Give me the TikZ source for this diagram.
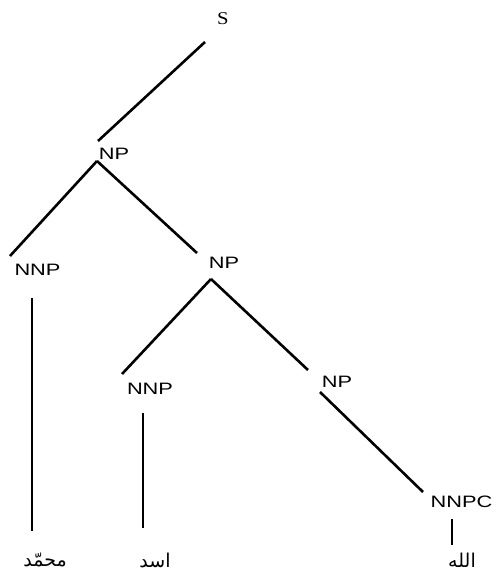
\documentclass[tikz,border=0pt]{standalone}
\usepackage{fontspec}
\newfontfamily\labfont{Liberation Sans}
\newfontfamily\serfont{Liberation Serif}
\newfontfamily\arabicfont[Script=Arabic]{DejaVu Sans}
\TeXXeTstate=1
\begin{document}
\begin{tikzpicture}[x=1pt,y=-1pt,
  lab/.style={inner sep=0pt,font=\labfont\fontsize{16.5}{16.5}\selectfont,xscale=1.32},
  slab/.style={inner sep=0pt,font=\serfont\fontsize{18}{18}\selectfont,xscale=1.15},
  word/.style={inner sep=0pt,font=\arabicfont\fontsize{19}{19}\selectfont},
  edge/.style={line width=2.6pt}]
\useasboundingbox (0,0) rectangle (497,573);
% labels
\node[slab] (s) at (223,19) {S};
\node[lab] (np1) at (114,154) {NP};
\node[lab] (nnp1) at (37.5,270) {NNP};
\node[lab] (np2) at (224,263) {NP};
\node[lab] (nnp2) at (150,389) {NNP};
\node[lab] (np3) at (337,382) {NP};
\node[lab] (nnpc) at (461.5,502) {NNPC};
\node[word] (w1) at (45,560) {\beginR محمّد\endR};
\node[word] (w2) at (155,560) {\beginR اسد\endR};
\node[word] (w3) at (462,560) {\beginR الله\endR};
% connector ends
\coordinate (s-out) at (205,42);
\coordinate (np1-in) at (98,141);
\coordinate (np1-out) at (97,161);
\coordinate (nnp1-in) at (10,256);
\coordinate (np2-in) at (197,253);
\coordinate (np2-out) at (211,279);
\coordinate (nnp2-in) at (122,374);
\coordinate (np3-in) at (308,370);
\coordinate (np3-out) at (320,392);
\coordinate (nnpc-in) at (423,492);
\coordinate (nnp1-out) at (32,298);
\coordinate (w1-in) at (32,531);
\coordinate (nnp2-out) at (143,413);
\coordinate (w2-in) at (143,528);
\coordinate (nnpc-out) at (452,519);
\coordinate (w3-in) at (452,545);
% connectors
\draw[edge] (s-out) -- (np1-in);
\draw[edge] (np1-out) -- (nnp1-in);
\draw[edge] (np1-out) -- (np2-in);
\draw[edge] (np2-out) -- (nnp2-in);
\draw[edge] (np2-out) -- (np3-in);
\draw[edge] (np3-out) -- (nnpc-in);
\draw[edge] (nnp1-out) -- (w1-in);
\draw[edge] (nnp2-out) -- (w2-in);
\draw[edge] (nnpc-out) -- (w3-in);
\end{tikzpicture}
\end{document}
